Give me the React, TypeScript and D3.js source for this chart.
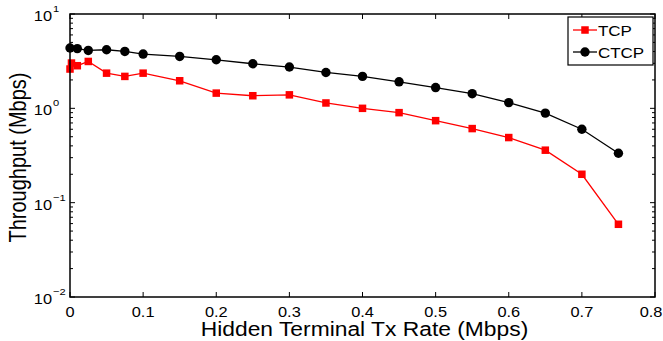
import React from "react";
import * as d3 from "d3";

const rateTcp = [0, 0.002, 0.01, 0.025, 0.05, 0.075, 0.1, 0.15, 0.2, 0.25, 0.3, 0.35, 0.4, 0.45, 0.5, 0.55, 0.6, 0.65, 0.7, 0.75];
const tcp = [2.61, 3.02, 2.83, 3.14, 2.36, 2.18, 2.36, 1.96, 1.45, 1.36, 1.39, 1.14, 1.0, 0.9, 0.74, 0.61, 0.49, 0.36, 0.2, 0.059];
const rateCtcp = [0, 0.01, 0.025, 0.05, 0.075, 0.1, 0.15, 0.2, 0.25, 0.3, 0.35, 0.4, 0.45, 0.5, 0.55, 0.6, 0.65, 0.7, 0.75];
const ctcp = [4.36, 4.3, 4.11, 4.18, 4.01, 3.76, 3.55, 3.27, 2.97, 2.74, 2.4, 2.18, 1.91, 1.66, 1.43, 1.15, 0.89, 0.6, 0.334];

const xTicks = [0, 0.1, 0.2, 0.3, 0.4, 0.5, 0.6, 0.7, 0.8];
const yExps = [-2, -1, 0, 1];

const W = 663;
const H = 341;
const m = { left: 70, right: 8, top: 14, bottom: 44 };
const font = "Liberation Sans, Arial, Helvetica, sans-serif";
const SX = 1.17; // the figure is a bit stretched sideways

// text with a horizontal stretch
function T(props: { x: number; y: number; size: number; anchor?: string; children: React.ReactNode }) {
  return (
    <text transform={`translate(${props.x},${props.y}) scale(${SX},1)`} fontSize={props.size}
      textAnchor={props.anchor || "start"}>{props.children}</text>
  );
}

export default function App() {
  const x = d3.scaleLinear().domain([0, 0.8]).range([m.left, W - m.right]);
  const y = d3.scaleLog().domain([0.01, 10]).range([H - m.bottom, m.top]);

  const line = d3.line<[number, number]>().x(d => x(d[0])).y(d => y(d[1]));
  const tcpPts: [number, number][] = rateTcp.map((r, i) => [r, tcp[i]]);
  const ctcpPts: [number, number][] = rateCtcp.map((r, i) => [r, ctcp[i]]);

  // minor log ticks
  const minors: number[] = [];
  for (let e = -2; e < 1; e++) {
    for (let k = 2; k <= 9; k++) minors.push(k * Math.pow(10, e));
  }

  const x0 = m.left, x1 = W - m.right, y0 = H - m.bottom, y1 = m.top;
  const lgX = 568, lgY = 17;

  return (
    <svg width={W} height={H} style={{ position: "absolute", left: 0, top: 0 }} fontFamily={font}>
      <rect x={0} y={0} width={W} height={H} fill="#fff" />
      {/* ticks */}
      {xTicks.map((t, i) => (
        <g key={"xt" + t}>
          <line x1={x(t)} x2={x(t)} y1={y0} y2={y0 - 5} stroke="#000" strokeWidth={1} />
          <line x1={x(t)} x2={x(t)} y1={y1} y2={y1 + 5} stroke="#000" strokeWidth={1} />
          <T x={i === xTicks.length - 1 ? x(t) - 4 : x(t)} y={y0 + 20} size={14} anchor="middle">{String(t)}</T>
        </g>
      ))}
      {yExps.map(e => (
        <g key={"yt" + e}>
          <line x1={x0} x2={x0 + 5} y1={y(Math.pow(10, e))} y2={y(Math.pow(10, e))} stroke="#000" />
          <line x1={x1} x2={x1 - 5} y1={y(Math.pow(10, e))} y2={y(Math.pow(10, e))} stroke="#000" />
          <T x={x0 - 18} y={y(Math.pow(10, e)) + 7} size={14} anchor="end">10</T>
          <T x={x0 - 17} y={y(Math.pow(10, e)) - 2} size={9.5}>{e < 0 ? "\u2212" + Math.abs(e) : String(e)}</T>
        </g>
      ))}
      {minors.map(v => (
        <g key={"mn" + v}>
          <line x1={x0} x2={x0 + 3} y1={y(v)} y2={y(v)} stroke="#000" />
          <line x1={x1} x2={x1 - 3} y1={y(v)} y2={y(v)} stroke="#000" />
        </g>
      ))}
      {/* series */}
      <path d={line(tcpPts) || ""} fill="none" stroke="#ff0000" strokeWidth={1.3} />
      <path d={line(ctcpPts) || ""} fill="none" stroke="#000" strokeWidth={1.3} />
      {tcpPts.map((p, i) => (
        <rect key={"s" + i} x={x(p[0]) - 3.75} y={y(p[1]) - 3.75} width={7.5} height={7.5} fill="#ff0000" />
      ))}
      {ctcpPts.map((p, i) => (
        <circle key={"c" + i} cx={x(p[0])} cy={y(p[1])} r={4.7} fill="#000" />
      ))}
      {/* frame */}
      <rect x={x0} y={y1} width={x1 - x0} height={y0 - y1} fill="none" stroke="#000" strokeWidth={1.5} />
      {/* legend */}
      <rect x={lgX} y={lgY} width={85} height={48} fill="#fff" stroke="#000" strokeWidth={1.2} />
      <line x1={lgX + 5} x2={lgX + 29} y1={lgY + 13} y2={lgY + 13} stroke="#ff0000" strokeWidth={1.3} />
      <rect x={lgX + 13.25} y={lgY + 9.25} width={7.5} height={7.5} fill="#ff0000" />
      <T x={lgX + 30} y={lgY + 18.5} size={14.5}>TCP</T>
      <line x1={lgX + 5} x2={lgX + 29} y1={lgY + 35} y2={lgY + 35} stroke="#000" strokeWidth={1.3} />
      <circle cx={lgX + 17} cy={lgY + 35} r={4.7} fill="#000" />
      <T x={lgX + 30} y={lgY + 40.5} size={14.5}>CTCP</T>
      {/* axis titles */}
      <T x={(x0 + x1) / 2 + 2} y={H - 5} size={19.5} anchor="middle">Hidden Terminal Tx Rate (Mbps)</T>
      <text transform={`translate(26,157.5) rotate(-90) scale(1,${SX})`} fontSize={20} textAnchor="middle">Throughput (Mbps)</text>
    </svg>
  );
}
